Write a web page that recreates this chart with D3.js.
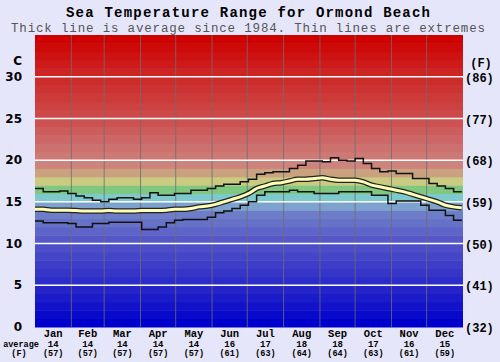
<!DOCTYPE html>
<html>
<head>
<meta charset="utf-8">
<script src="https://cdn.jsdelivr.net/npm/d3@7"></script>
<style>
  body { margin: 0; background: #e6e6fa; }
  svg { display: block; }
</style>
</head>
<body>
<div id="chart"></div>
<script>
// readings taken every 7 days along the year
const days = [0,7,14,21,28,35,42,49,56,63,70,77,84,91,98,105,112,119,126,133,140,147,154,161,168,175,182,189,196,203,210,217,224,231,238,245,252,259,266,273,280,287,294,301,308,315,322,329,336,343,350,357,364];
const avgTemp = [14.1,14.1,14.0,14.0,14.0,13.95,13.9,13.9,13.9,13.95,13.9,13.9,13.9,13.95,13.95,13.95,14.0,14.1,14.1,14.2,14.4,14.5,14.7,15.0,15.3,15.6,16.0,16.6,16.9,17.2,17.3,17.5,17.7,17.7,17.8,17.9,17.7,17.6,17.6,17.6,17.4,17.0,16.8,16.6,16.4,16.2,15.9,15.6,15.3,15.0,14.6,14.4,14.3];
const maxTemp = [16.6,16.2,16.2,16.3,16.0,15.7,15.5,15.2,15.0,15.3,15.5,15.5,15.3,15.5,16.1,15.8,15.8,16.0,16.0,16.4,16.4,16.6,16.9,17.1,17.1,17.4,17.7,18.3,18.5,18.6,18.6,19.0,19.4,19.9,19.9,19.8,20.3,20.0,19.9,20.2,19.6,19.0,18.6,18.7,18.4,18.4,17.8,17.8,17.2,16.9,16.6,16.2,16.2];
const minTemp = [12.7,12.5,12.5,12.5,12.4,12.0,12.0,12.4,12.4,12.55,12.55,12.55,12.55,11.7,11.7,12.0,12.5,12.8,12.9,12.9,12.9,13.15,13.7,13.9,14.2,14.6,15.0,15.8,16.2,16.2,16.2,16.4,16.2,16.2,16.0,16.0,16.0,16.2,16.2,16.2,16.2,15.8,15.8,14.8,15.1,15.1,15.1,14.6,14.0,14.0,13.35,12.8,12.8];

const months = ["Jan","Feb","Mar","Apr","May","Jun","Jul","Aug","Sep","Oct","Nov","Dec"];
const monthDays = [31,28,31,30,31,30,31,31,30,31,30,31];
const monthAvgC = [14,14,14,14,14,16,17,18,18,17,16,15];
const monthAvgF = [57,57,57,57,57,61,63,64,64,63,61,59];
const celsiusTicks = [0,5,10,15,20,25,30];
const fahrenheitTicks = ["(32)","(41)","(50)","(59)","(68)","(77)","(86)"];

const W = 500, H = 362;
const plotL = 35, plotR = 463, plotT = 35, plotB = 327;

const svg = d3.select("#chart").append("svg")
    .attr("width", W).attr("height", H);

const x = d3.scaleLinear().domain([0, 365]).range([plotL, plotR]);
const y = d3.scaleLinear().domain([0, 35]).range([plotB, plotT]);

// colour bands, one per degree
const bandColor = d3.scaleLinear()
    .domain([0.5, 5, 10, 13.5, 14.5, 15.5, 16.5, 17.5, 18.5, 19.5, 22, 25, 30, 34.5])
    .range(["rgb(0,0,204)","rgb(40,40,200)","rgb(82,82,200)","rgb(110,125,200)","rgb(125,162,205)",
            "rgb(125,202,205)","rgb(128,200,128)","rgb(202,202,128)","rgb(202,162,128)","rgb(205,132,124)",
            "rgb(205,108,108)","rgb(205,75,75)","rgb(205,40,40)","rgb(206,0,0)"]);

svg.append("g").selectAll("rect")
    .data(d3.range(0, 35))
    .join("rect")
    .attr("x", plotL)
    .attr("width", plotR - plotL)
    .attr("y", d => y(d + 1))
    .attr("height", d => y(d) - y(d + 1) + 0.5)
    .attr("fill", d => bandColor(d + 0.5));

// month boundaries
let cum = [0];
monthDays.forEach(d => cum.push(cum[cum.length - 1] + d));
svg.append("g").selectAll("line")
    .data(cum.slice(1, 12))
    .join("line")
    .attr("x1", d => x(d)).attr("x2", d => x(d))
    .attr("y1", plotT).attr("y2", plotB)
    .attr("stroke", "#6e6e6e").attr("stroke-width", 1).attr("opacity", 0.8);

// white grid lines
svg.append("g").selectAll("line")
    .data(celsiusTicks.slice(1))
    .join("line")
    .attr("x1", plotL).attr("x2", plotR)
    .attr("y1", d => y(d)).attr("y2", d => y(d))
    .attr("stroke", "#ffffff").attr("stroke-width", 1.5);

const pts = arr => days.map((d, i) => [d, arr[i]]);
const stepLine = d3.line().x(d => x(d[0])).y(d => y(d[1])).curve(d3.curveStepAfter);
const smoothLine = d3.line().x(d => x(d[0])).y(d => y(d[1])).curve(d3.curveMonotoneX);

[maxTemp, minTemp].forEach(arr => {
    svg.append("path")
        .attr("d", stepLine(pts(arr)))
        .attr("fill", "none")
        .attr("stroke", "#111")
        .attr("stroke-width", 1.5);
});

svg.append("path")
    .attr("d", smoothLine(pts(avgTemp)))
    .attr("fill", "none")
    .attr("stroke", "#222")
    .attr("stroke-width", 5.5);
svg.append("path")
    .attr("d", smoothLine(pts(avgTemp)))
    .attr("fill", "none")
    .attr("stroke", "#ffffb8")
    .attr("stroke-width", 3);

// titles
svg.append("text")
    .attr("x", 248).attr("y", 17)
    .attr("text-anchor", "middle")
    .attr("textLength", 364).attr("lengthAdjust", "spacing")
    .style("font", "bold 14px 'Liberation Mono', monospace")
    .text("Sea Temperature Range for Ormond Beach");
svg.append("text")
    .attr("x", 248).attr("y", 32)
    .attr("text-anchor", "middle")
    .attr("textLength", 474).attr("lengthAdjust", "spacing")
    .attr("fill", "#555")
    .style("font", "12.5px 'Liberation Mono', monospace")
    .text("Thick line is average since 1984. Thin lines are extremes");

// left axis (C)
svg.append("text")
    .attr("x", 22).attr("y", 61).attr("dy", "0.35em")
    .attr("text-anchor", "end")
    .style("font", "bold 12px 'DejaVu Sans', sans-serif")
    .text("C");
svg.append("g").selectAll("text")
    .data(celsiusTicks)
    .join("text")
    .attr("x", 22).attr("y", d => y(d)).attr("dy", "0.35em")
    .attr("text-anchor", "end")
    .style("font", "bold 12px 'DejaVu Sans', sans-serif")
    .text(d => d);

// right axis (F)
svg.append("text")
    .attr("x", 481).attr("y", 63).attr("dy", "0.35em")
    .attr("text-anchor", "middle")
    .style("font", "bold 12px 'Liberation Mono', monospace")
    .text("(F)");
svg.append("g").selectAll("text")
    .data(celsiusTicks)
    .join("text")
    .attr("x", 465).attr("y", d => y(d) + 1).attr("dy", "0.35em")
    .style("font", "bold 12px 'Liberation Mono', monospace")
    .text((d, i) => fahrenheitTicks[i]);

// bottom month labels
const mid = i => x((cum[i] + cum[i + 1]) / 2);
const bottomG = svg.append("g").attr("text-anchor", "middle");
bottomG.selectAll("text.m")
    .data(months)
    .join("text").attr("class", "m")
    .attr("x", (d, i) => mid(i)).attr("y", 337)
    .style("font", "bold 10.5px 'Liberation Mono', monospace")
    .text(d => d);
bottomG.selectAll("text.c")
    .data(monthAvgC)
    .join("text").attr("class", "c")
    .attr("x", (d, i) => mid(i)).attr("y", 347)
    .style("font", "bold 9px 'Liberation Mono', monospace")
    .text(d => d);
bottomG.selectAll("text.f")
    .data(monthAvgF)
    .join("text").attr("class", "f")
    .attr("x", (d, i) => mid(i)).attr("y", 356)
    .style("font", "bold 8.5px 'Liberation Mono', monospace")
    .text(d => "(" + d + ")");
bottomG.append("text")
    .attr("x", 21).attr("y", 347)
    .style("font", "bold 8.5px 'Liberation Mono', monospace")
    .text("average");
bottomG.append("text")
    .attr("x", 19).attr("y", 356)
    .style("font", "bold 8.5px 'Liberation Mono', monospace")
    .text("(F)");
</script>
</body>
</html>
